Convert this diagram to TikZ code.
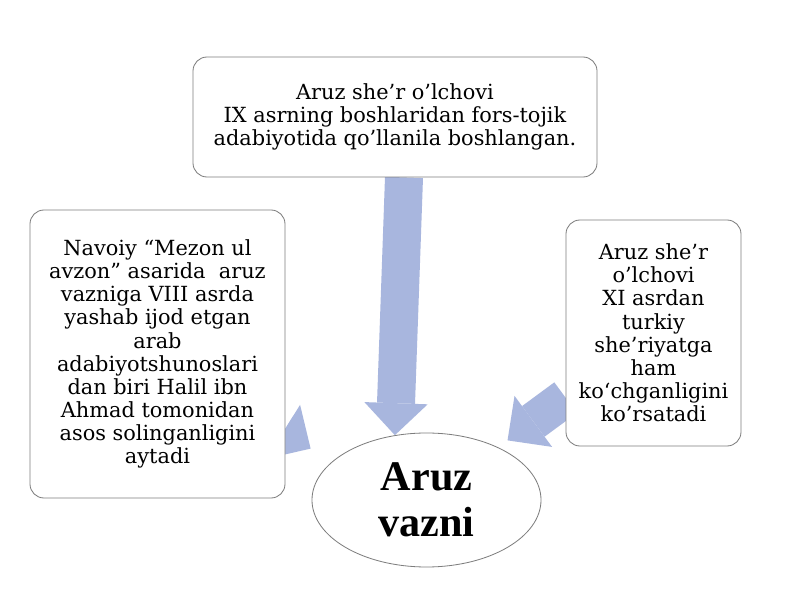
\documentclass[tikz,border=0pt]{standalone}
\usepackage{fontspec}
\setmainfont{DejaVu Serif}
\newfontfamily\vaznfont{Liberation Serif}
\usetikzlibrary{shapes.geometric,arrows.meta,backgrounds}

\definecolor{arrowblue}{RGB}{168,182,222}
\definecolor{boxline}{RGB}{125,125,125}

\begin{document}
\begin{tikzpicture}[x=0.03cm,y=-0.03cm]
    \tikzstyle{infobox}=[draw=boxline,line width=0.7pt,fill=white,rounded corners=0.42cm,
        align=center,inner sep=0pt,font=\fontsize{17.8}{19.8}\selectfont]
    \tikzstyle{core}=[ellipse,draw=boxline,line width=0.7pt,fill=white,inner sep=0pt,
        align=center,font=\vaznfont\bfseries\fontsize{36}{37.6}\selectfont]
    \tikzstyle{bigarrow}=[draw=arrowblue,line width=1.14cm,
        -{Triangle[width=1.9cm,length=0.96cm,line width=0pt,fill=arrowblue]}]

    \useasboundingbox (0,0) rectangle (800,599);

    % The three source boxes
    \node[infobox,minimum width=12.12cm,minimum height=3.6cm] (B-top) at (395,117)
        {Aruz she’r o’lchovi\\IX asrning boshlaridan fors-tojik\\adabiyotida qo’llanila boshlangan.};
    \node[infobox,minimum width=7.65cm,minimum height=8.64cm] (B-left) at (157.5,354)
        {Navoiy “Mezon ul\\avzon” asarida~ aruz\\vazniga VIII asrda\\yashab ijod etgan\\arab\\adabiyotshunoslari\\dan biri Halil ibn\\Ahmad tomonidan\\asos solinganligini\\aytadi};
    \node[infobox,minimum width=5.25cm,minimum height=6.78cm] (B-right) at (653.5,333)
        {Aruz she’r\\o’lchovi\\XI asrdan\\turkiy\\she’riyatga\\ham\\ko‘chganligini\\ko’rsatadi};

    % The centre
    \node[core,minimum width=6.87cm,minimum height=4.02cm] (V) at (426.5,500)
        {\raisebox{2pt}{Aruz}\\vazni};

    % Arrows go behind the boxes
    \begin{scope}[on background layer]
        \fill[white] (0,0) rectangle (800,599);
        \draw[bigarrow] ([xshift=0.27cm]B-top.south) -- (V.116);
        \foreach \src/\dest/\cut in {B-left/V.158/0.75cm,B-right/V/0.35cm}
            \draw[bigarrow,shorten >=\cut] (\src) -- (\dest);
    \end{scope}
\end{tikzpicture}
\end{document}
